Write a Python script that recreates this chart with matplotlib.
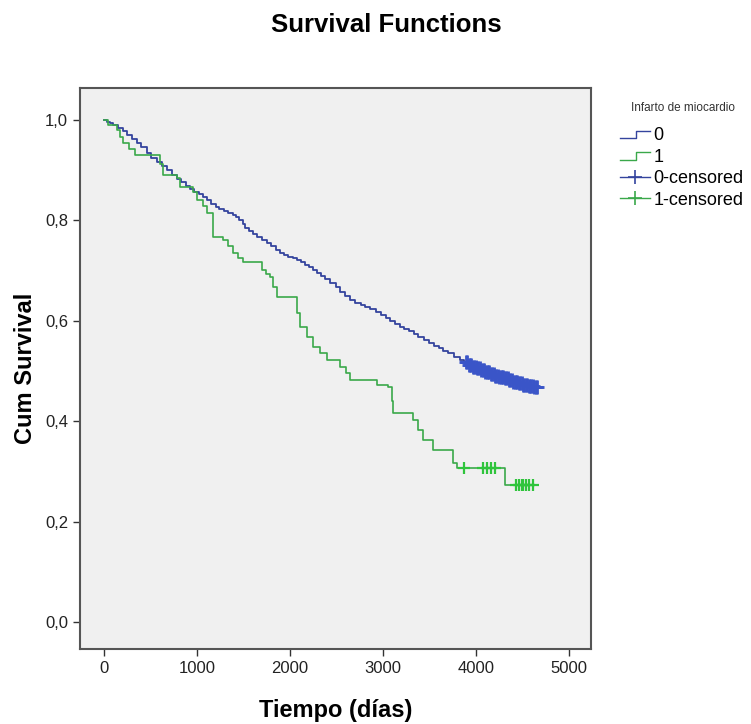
import numpy as np
import matplotlib
matplotlib.use('Agg')
import matplotlib.pyplot as plt
from matplotlib.lines import Line2D
from matplotlib.legend_handler import HandlerLine2D
from matplotlib.ticker import FuncFormatter

plt.rcParams['font.family'] = ['Liberation Sans', 'DejaVu Sans']

# grupo 0 (sin infarto)
time_0 = [0, 30, 60, 100, 150, 200, 250, 300, 350, 400, 460, 510, 570, 620, 674,
          730, 780, 830, 880, 930, 970, 1020, 1065, 1110, 1150, 1200, 1240, 1290,
          1330, 1387, 1420, 1450, 1490, 1520, 1560, 1600, 1650, 1700, 1750, 1800,
          1850, 1892, 1940, 1980, 2030, 2080, 2120, 2160, 2200, 2247, 2290, 2330,
          2380, 2430, 2490, 2540, 2590, 2645, 2700, 2760, 2810, 2860, 2920, 2980,
          3030, 3080, 3130, 3183, 3230, 3280, 3330, 3380, 3440, 3500, 3550, 3600,
          3650, 3700, 3760, 3828, 3870, 3920, 3960, 4000, 4050, 4100, 4150, 4200,
          4250, 4300, 4350, 4400, 4450, 4500, 4560, 4613, 4680]
surv_0 = [1.0, 0.997, 0.994, 0.990, 0.985, 0.978, 0.970, 0.962, 0.955, 0.946,
          0.934, 0.925, 0.917, 0.909, 0.900, 0.891, 0.883, 0.876, 0.868, 0.862,
          0.857, 0.852, 0.847, 0.840, 0.833, 0.827, 0.822, 0.818, 0.815, 0.811,
          0.806, 0.800, 0.792, 0.785, 0.779, 0.772, 0.766, 0.760, 0.754, 0.748,
          0.741, 0.735, 0.731, 0.728, 0.725, 0.722, 0.717, 0.712, 0.707, 0.701,
          0.696, 0.690, 0.683, 0.675, 0.667, 0.658, 0.650, 0.641, 0.636, 0.632,
          0.628, 0.624, 0.618, 0.612, 0.606, 0.600, 0.594, 0.588, 0.583, 0.579,
          0.573, 0.567, 0.561, 0.555, 0.550, 0.545, 0.540, 0.535, 0.528, 0.522,
          0.517, 0.512, 0.508, 0.505, 0.501, 0.497, 0.493, 0.490, 0.487, 0.485,
          0.481, 0.478, 0.475, 0.473, 0.470, 0.468, 0.468]
cens_0 = [3890, 3905, 3920, 3935, 3950, 3965, 3980, 3995, 4010, 4025, 4040, 4055,
          4070, 4085, 4100, 4115, 4130, 4145, 4160, 4175, 4190, 4205, 4220, 4235,
          4250, 4265, 4280, 4295, 4310, 4325, 4340, 4355, 4370, 4385, 4400, 4415,
          4430, 4445, 4460, 4475, 4490, 4505, 4520, 4535, 4550, 4565, 4580, 4595,
          4610, 4625, 4640, 4655]

# grupo 1 (infarto)
time_1 = [0, 40, 136, 170, 206, 270, 333, 602, 636, 785, 817, 957, 1000, 1060,
          1108, 1172, 1280, 1330, 1387, 1440, 1495, 1699, 1740, 1785, 1820, 1860,
          2075, 2108, 2180, 2247, 2320, 2398, 2538, 2600, 2645, 2935, 3054, 3100,
          3108, 3323, 3380, 3430, 3538, 3753, 3800, 4312, 4650]
surv_1 = [1.0, 0.99, 0.98, 0.966, 0.954, 0.942, 0.930, 0.912, 0.890, 0.884, 0.867,
          0.857, 0.840, 0.828, 0.815, 0.767, 0.761, 0.748, 0.735, 0.726, 0.717,
          0.701, 0.694, 0.687, 0.667, 0.647, 0.616, 0.588, 0.568, 0.548, 0.535,
          0.522, 0.508, 0.495, 0.482, 0.472, 0.468, 0.440, 0.416, 0.402, 0.383,
          0.363, 0.343, 0.317, 0.307, 0.273, 0.273]
cens_1 = [3870, 4080, 4120, 4160, 4200, 4430, 4460, 4490, 4510, 4540, 4570, 4610]

BLUE = '#34449e'
BLUE_C = '#3a55c8'
GREEN = '#3aa84a'
GREEN_C = '#2fc43c'


def step_value(times, surv, t):
    idx = np.searchsorted(times, t, side='right') - 1
    return np.asarray(surv)[idx]


class StepHandler(HandlerLine2D):
    def create_artists(self, legend, orig_handle, xdescent, ydescent,
                       width, height, fontsize, trans):
        x0 = -xdescent
        xs = [x0, x0 + width * 0.55, x0 + width * 0.55, x0 + width]
        ys = [height * 0.15, height * 0.15, height * 0.75, height * 0.75]
        line = Line2D(xs, ys, color=orig_handle.get_color(), lw=1.0)
        line.set_transform(trans)
        return [line]


fig = plt.figure(figsize=(7.51, 7.24), dpi=100)
ax = fig.add_axes([0.1065, 0.1036, 0.6805, 0.775])
ax.set_facecolor('#f0f0f0')

l0, = ax.plot(time_0, surv_0, drawstyle='steps-post', color=BLUE, lw=1.3)
l1, = ax.plot(time_1, surv_1, drawstyle='steps-post', color=GREEN, lw=1.2)
c0, = ax.plot(cens_0, step_value(time_0, surv_0, cens_0), '+', color=BLUE_C,
              ms=10, mew=2.0, linestyle='none')
c1, = ax.plot(cens_1, step_value(time_1, surv_1, cens_1), '+', color=GREEN_C,
              ms=9, mew=1.6, linestyle='none')

ax.set_xlim(-258, 5237)
ax.set_ylim(-0.054, 1.064)
ax.set_xticks([0, 1000, 2000, 3000, 4000, 5000])
ax.set_yticks([0.0, 0.2, 0.4, 0.6, 0.8, 1.0])
ax.yaxis.set_major_formatter(FuncFormatter(lambda v, p: f'{v:.1f}'.replace('.', ',')))
ax.tick_params(labelsize=12, length=5, width=1, color='#333333', labelcolor='#222222')
for s in ax.spines.values():
    s.set_color('#555555')
    s.set_linewidth(1.5)

ax.set_xlabel('Tiempo (días)', fontsize=17, fontweight='bold', labelpad=17)
ax.set_ylabel('Cum Survival', fontsize=17, fontweight='bold', labelpad=6)
fig.text(0.515, 0.965, 'Survival Functions', ha='center', va='center',
         fontsize=18.5, fontweight='bold')

# titulo de la leyenda
fig.text(683 / 751, 1 - 108 / 724, 'Infarto de miocardio', ha='center',
         va='center', fontsize=8.5, color='#333333')

cl0 = Line2D([], [], color=BLUE, marker='+', ms=10, mew=1.2, lw=1.0)
cl1 = Line2D([], [], color=GREEN, marker='+', ms=10, mew=1.2, lw=1.0)
leg = fig.legend([l0, l1, cl0, cl1], ['0', '1', '0-censored', '1-censored'],
                 loc='upper left', bbox_to_anchor=(620 / 751, 1 - 127 / 724),
                 frameon=False, fontsize=13, handlelength=1.65,
                 handletextpad=0.2, labelspacing=0.25, borderaxespad=0,
                 borderpad=0,
                 handler_map={l0: StepHandler(), l1: StepHandler()})

fig.savefig('out.png', dpi=100, facecolor='white')
